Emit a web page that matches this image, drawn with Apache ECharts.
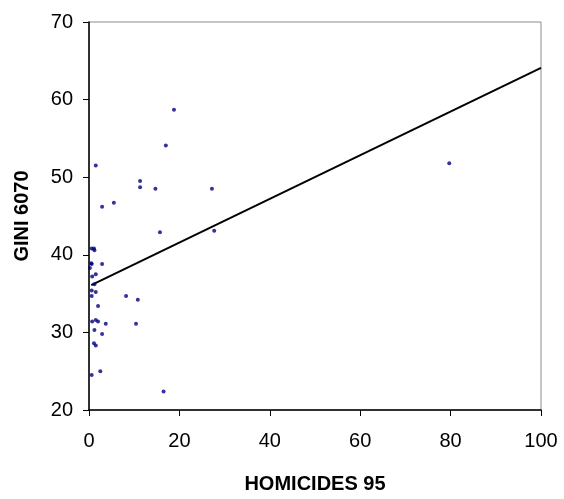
<!DOCTYPE html>
<html>
<head>
<meta charset="utf-8">
<script src="https://cdn.jsdelivr.net/npm/echarts@6/dist/echarts.min.js"></script>
<style>
  html, body { margin: 0; padding: 0; background: #fff; }
  #chart { width: 564px; height: 499px; }
</style>
</head>
<body>
<div id="chart"></div>
<script>
// homicides 95 (x) vs gini 6070 (y)
var homicides = [18.8, 17.0, 79.7, 1.5, 11.3, 11.3, 14.7, 27.2, 5.5, 2.9,
                 15.7, 27.7, 0.6, 1.1, 1.2, 0.5, 0.6, 2.9, 0.2, 1.5,
                 0.7, 1.2, 0.6, 1.5, 0.6, 8.2, 10.8, 2.0, 0.7, 1.5,
                 2.0, 3.7, 10.4, 1.2, 2.9, 1.1, 1.5, 2.5, 0.6, 16.5];
var gini = [58.7, 54.1, 51.8, 51.5, 49.5, 48.7, 48.5, 48.5, 46.7, 46.2,
            42.9, 43.1, 40.8, 40.8, 40.6, 38.9, 38.8, 38.8, 38.3, 37.5,
            37.2, 36.2, 35.4, 35.2, 34.7, 34.7, 34.2, 33.4, 31.4, 31.6,
            31.4, 31.1, 31.1, 30.3, 29.8, 28.6, 28.3, 25.0, 24.5, 22.4];

// trend line end points
var trendX = [0.5, 100];
var trendY = [36.1, 64.1];

var xTicks = [0, 20, 40, 60, 80, 100];
var yTicks = [20, 30, 40, 50, 60, 70];

var points = [];
for (var i = 0; i < homicides.length; i++) {
    points.push([homicides[i], gini[i]]);
}
var trend = [[trendX[0], trendY[0]], [trendX[1], trendY[1]]];

var chart = echarts.init(document.getElementById('chart'));

var font = 'Liberation Sans, Arial, sans-serif';

var option = {
    animation: false,
    grid: {
        left: 89, right: 23, top: 22, bottom: 85,
        show: true,
        borderColor: '#8c8c8c',
        borderWidth: 1
    },
    xAxis: {
        type: 'value',
        min: xTicks[0], max: xTicks[xTicks.length - 1], interval: 20,
        name: 'HOMICIDES 95',
        nameLocation: 'middle',
        nameGap: 64,
        nameTextStyle: { fontFamily: font, fontWeight: 'bold', fontSize: 20, color: '#000' },
        axisLine: { lineStyle: { color: '#000', width: 1.5 } },
        axisTick: { show: true, inside: false, length: 6, lineStyle: { color: '#000' } },
        axisLabel: { margin: 21, fontFamily: font, fontSize: 20, color: '#000' },
        splitLine: { show: false }
    },
    yAxis: {
        type: 'value',
        min: yTicks[0], max: yTicks[yTicks.length - 1], interval: 10,
        name: 'GINI 6070',
        nameLocation: 'middle',
        nameGap: 57,
        nameRotate: 90,
        nameTextStyle: { fontFamily: font, fontWeight: 'bold', fontSize: 20, color: '#000' },
        axisLine: { show: true, lineStyle: { color: '#000', width: 1.5 } },
        axisTick: { show: true, inside: false, length: 6, lineStyle: { color: '#000' } },
        axisLabel: { margin: 16, fontFamily: font, fontSize: 20, color: '#000' },
        splitLine: { show: false }
    },
    series: [
        {
            type: 'scatter',
            data: points,
            symbol: 'circle',
            symbolSize: 4,
            itemStyle: { color: '#000080' },
            z: 3
        },
        {
            type: 'line',
            data: trend,
            showSymbol: false,
            symbol: 'none',
            lineStyle: { color: '#000', width: 2 },
            z: 2
        }
    ]
};

chart.setOption(option);
</script>
</body>
</html>
